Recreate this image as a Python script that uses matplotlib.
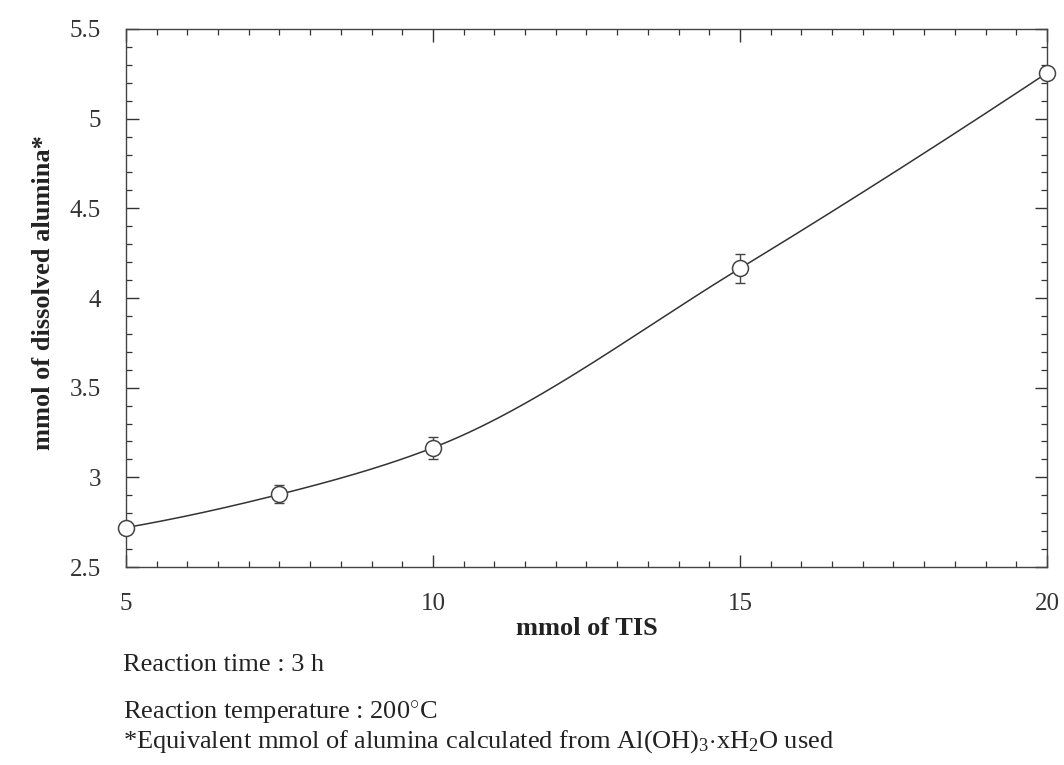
import numpy as np
import matplotlib
matplotlib.use("Agg")
import matplotlib.pyplot as plt
from matplotlib.ticker import MultipleLocator

plt.rcParams['font.family'] = ['Liberation Serif', 'DejaVu Serif']
plt.rcParams['mathtext.fontset'] = 'custom'
plt.rcParams['mathtext.rm'] = 'Liberation Serif'
plt.rcParams['mathtext.it'] = 'Liberation Serif:italic'

# data
tis = [5, 7.5, 10, 15, 20]
alumina = [2.72, 2.905, 3.165, 4.165, 5.255]
err = [0.03, 0.05, 0.06, 0.08, 0.0]

x_ticks = [5, 10, 15, 20]
y_ticks = [2.5, 3, 3.5, 4, 4.5, 5, 5.5]


def smooth(x, y, n=60):
    # monotone cubic (pchip style) curve through the points, drawn line only
    x = np.asarray(x, float)
    y = np.asarray(y, float)
    h = np.diff(x)
    d = np.diff(y) / h
    m = np.zeros_like(y)
    for k in range(1, len(x) - 1):
        w1 = 2*h[k] + h[k-1]
        w2 = h[k] + 2*h[k-1]
        m[k] = (w1 + w2) / (w1/d[k-1] + w2/d[k])
    m[0] = ((2*h[0] + h[1])*d[0] - h[0]*d[1]) / (h[0] + h[1])
    m[-1] = ((2*h[-1] + h[-2])*d[-1] - h[-1]*d[-2]) / (h[-1] + h[-2])
    xs, ys = [], []
    t = np.linspace(0, 1, n)
    for k in range(len(h)):
        h00 = 2*t**3 - 3*t**2 + 1
        h10 = t**3 - 2*t**2 + t
        h01 = -2*t**3 + 3*t**2
        h11 = t**3 - t**2
        xs.extend(x[k] + t*h[k])
        ys.extend(h00*y[k] + h10*h[k]*m[k] + h01*y[k+1] + h11*h[k]*m[k+1])
    return xs, ys


fig = plt.figure(figsize=(10.64, 7.65), dpi=100)
ax = fig.add_axes([0.1184, 0.2588, 0.8656, 0.7033])

sx, sy = smooth(tis, alumina)
ax.plot(sx, sy, color='#333333', lw=1.1, zorder=2)
ax.errorbar(tis, alumina, yerr=err, fmt='none', ecolor='#444444',
            elinewidth=1, capsize=3.5, zorder=3)
ax.plot(tis, alumina, 'o', ms=11.5, mfc='white', mec='#444444', mew=1.1,
        zorder=4, clip_on=False)

ax.set_xlim(5, 20)
ax.set_ylim(2.5, 5.5)
ax.set_xticks(x_ticks)
ax.set_yticks(y_ticks)
ax.set_xticklabels([str(v) for v in x_ticks])
ax.set_yticklabels(['2.5', '3', '3.5', '4', '4.5', '5', '5.5'])
ax.xaxis.set_minor_locator(MultipleLocator(0.5))
ax.yaxis.set_minor_locator(MultipleLocator(0.1))
ax.tick_params(which='both', direction='in', top=True, right=True,
               labelsize=18, colors='#333333', pad=18)
ax.tick_params(axis='x', pad=19)
ax.tick_params(which='major', length=9, width=1)
ax.tick_params(which='minor', length=4, width=0.9)
for s in ax.spines.values():
    s.set_color('#444444')
    s.set_linewidth(1)

ax.set_xlabel('mmol of TIS', fontsize=19, fontweight='bold', color='#222222')
ax.xaxis.set_label_coords(0.5, -0.093)
ax.set_ylabel('mmol of dissolved alumina*', fontsize=19, fontweight='bold',
              color='#222222')
ax.yaxis.set_label_coords(-0.077, 0.51)

fig.text(0.1156, 0.131, 'Reaction time : 3 h', fontsize=19, va='center',
         color='#222222')
fig.text(0.1156, 0.069, 'Reaction temperature : 200$^{\\circ}$C', fontsize=19,
         va='center', color='#222222')
fig.text(0.1156, 0.030,
         '*Equivalent mmol of alumina calculated from Al(OH)$_3$$\\cdot$xH$_2$O used',
         fontsize=19, va='center', color='#222222')

fig.savefig('out.png', dpi=100)
